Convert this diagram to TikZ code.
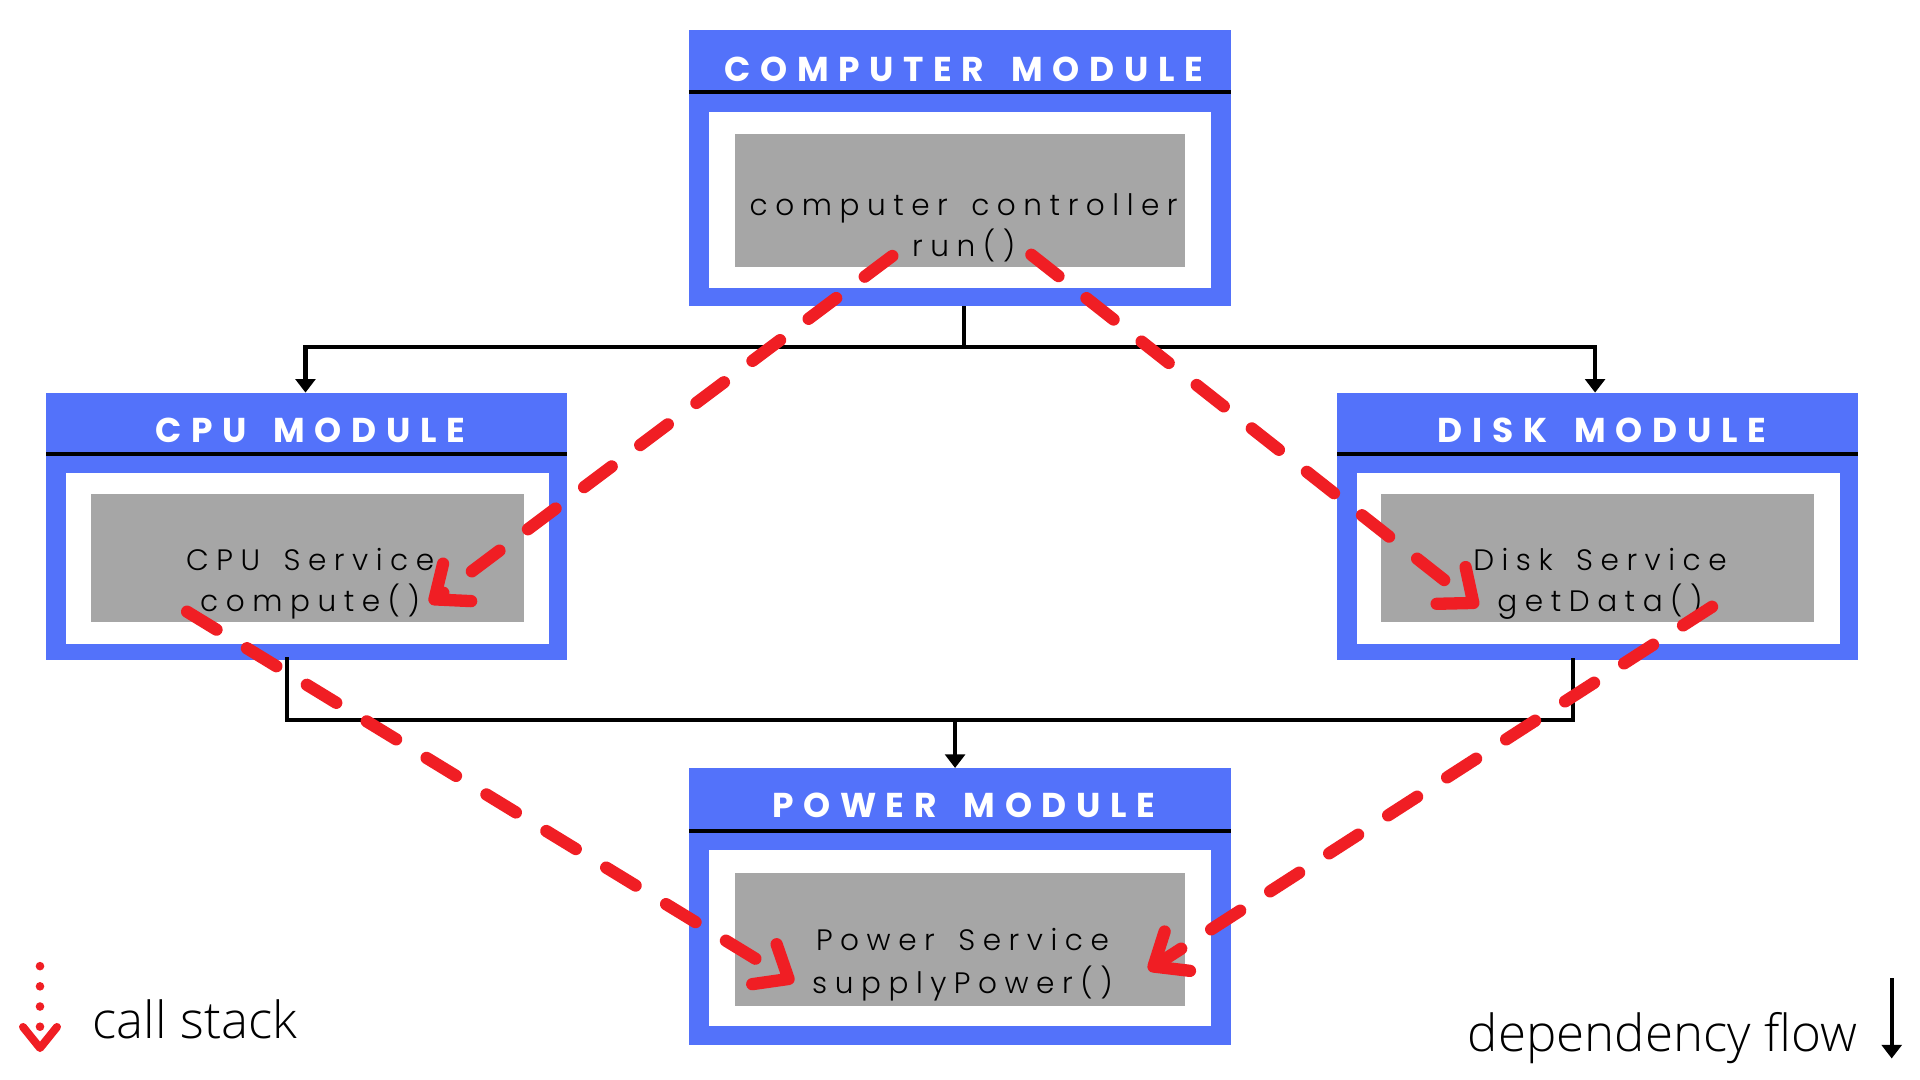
\documentclass[tikz,border=0pt]{standalone}
\usepackage{fontspec}
\setmainfont{Poppins}
\newfontfamily\titlefont{Poppins}[LetterSpace=28, WordSpace=1.6]
\IfFontExistsTF{Poppins Light}
  {\newfontfamily\bodyfont{Poppins Light}[LetterSpace=25.5, WordSpace=1.5]}
  {\newfontfamily\bodyfont{Poppins}[LetterSpace=26]}
\IfFontExistsTF{Open Sans Light}
  {\newfontfamily\legendfont{Open Sans Light}}
  {\newfontfamily\legendfont{Open Sans}}
\usetikzlibrary{arrows.meta}
\definecolor{modblue}{RGB}{83,114,250}
\definecolor{svcgray}{RGB}{166,166,166}
\definecolor{callred}{RGB}{240,30,36}
\tikzset{
  modouter/.style={fill=modblue, draw=none, inner sep=0pt, outer sep=0pt},
  whitebox/.style={fill=white, draw=none, inner sep=0pt, outer sep=0pt},
  graybox/.style={fill=svcgray, draw=none, inner sep=0pt, outer sep=0pt},
  titletxt/.style={text=white, font=\titlefont\bfseries\fontsize{28pt}{30pt}\selectfont, anchor=base, inner sep=0pt},
  bodytxt/.style={text=black, font=\bodyfont\fontsize{24pt}{28pt}\selectfont, anchor=base, inner sep=0pt},
  legendtxt/.style={text=black, font=\legendfont\fontsize{41.5pt}{45pt}\selectfont, inner sep=0pt},
  sepline/.style={line width=3.5pt, black},
  dep/.style={line width=3.5pt, black},
  deparrow/.style={dep, -{Triangle[length=11pt,width=16pt]}},
  callarrow/.style={callred, line width=10pt, line cap=round, dash pattern=on 28pt off 29pt, -{Straight Barb[length=23pt,width=38pt,round]}},
}
\begin{document}
\begin{tikzpicture}[x=1pt,y=-1pt]
\useasboundingbox (0,0) rectangle (1560,877.5);

% ---- Computer module
\node[modouter, minimum width=440.5pt, minimum height=225pt] (comp) at (780,136.5) {};
\draw[sepline] (559.7,75) -- (1000.2,75);
\node[titletxt] (compT) at (783,66.4) {COMPUTER MODULE};
\node[whitebox, minimum width=407.7pt, minimum height=143pt] (compW) at (780.15,162.5) {};
\node[graybox, minimum width=365pt, minimum height=108pt] (compG) at (780,163) {};
\node[bodytxt] (compL1) at (783,175) {computer controller};
\node[bodytxt] (compL2) at (783,208.5) {run()};

% ---- CPU module
\node[modouter, minimum width=423.6pt, minimum height=217pt] (cpu) at (249.2,427.5) {};
\draw[sepline] (37.4,369) -- (461,369);
\node[titletxt] (cpuT) at (252,359.7) {CPU MODULE};
\node[whitebox, minimum width=392.6pt, minimum height=139pt] (cpuW) at (249.7,453.5) {};
\node[graybox, minimum width=351.7pt, minimum height=104pt] (cpuG) at (249.55,453) {};
\node[bodytxt] (cpuL1) at (252,463.7) {CPU Service};
\node[bodytxt] (cpuL2) at (252,497) {compute()};

% ---- Disk module
\node[modouter, minimum width=423pt, minimum height=217pt] (disk) at (1298,427.5) {};
\draw[sepline] (1086.5,369) -- (1509.5,369);
\node[titletxt] (diskT) at (1301.5,359.7) {DISK MODULE};
\node[whitebox, minimum width=392.3pt, minimum height=139pt] (diskW) at (1298.5,453.5) {};
\node[graybox, minimum width=351.9pt, minimum height=104pt] (diskG) at (1298,453) {};
\node[bodytxt] (diskL1) at (1300,463.7) {Disk Service};
\node[bodytxt] (diskL2) at (1300,497) {getData()};

% ---- Power module
\node[modouter, minimum width=440.5pt, minimum height=225pt] (power) at (780,736.5) {};
\draw[sepline] (559.7,675) -- (1000.2,675);
\node[titletxt] (powerT) at (783,664) {POWER MODULE};
\node[whitebox, minimum width=407.7pt, minimum height=143pt] (powerW) at (780.15,762.5) {};
\node[graybox, minimum width=365pt, minimum height=108pt] (powerG) at (780,763) {};
\node[bodytxt] (powerL1) at (782,772.4) {Power Service};
\node[bodytxt] (powerL2) at (782,807) {supplyPower()};

% ---- dependency connectors
\coordinate (jtop) at (783,282);
\coordinate (jbot) at (776,585);
\draw[dep] ([xshift=3pt]comp.south) -- (jtop);
\draw[deparrow] (jtop) -| ([xshift=-1pt]cpu.north);
\draw[deparrow] (jtop) -| ([xshift=-2pt]disk.north);
\draw[dep] ([xshift=-16pt,yshift=2pt]cpu.south) |- (jbot) -| ([xshift=-20pt,yshift=1pt]disk.south);
\draw[deparrow] (jbot) -- (jbot |- power.north);

% ---- call-stack connectors
\coordinate (c1s) at (725,208);  \coordinate (c1e) at (349,490);
\coordinate (c2s) at (838,207);  \coordinate (c2e) at (1201,493);
\coordinate (c3s) at (152,497);  \coordinate (c3e) at (645,798);
\coordinate (c4s) at (1391,493); \coordinate (c4e) at (933,788);
\draw[callarrow] (c1s) -- (c1e);
\draw[callarrow] (c2s) -- (c2e);
\draw[callarrow] (c3s) -- (c3e);
\draw[callarrow] (c4s) -- (c4e);

% ---- legend
\draw[callred, line width=7pt, line cap=round, dash pattern=on 0pt off 16.4pt] (32.5,785) -- (32.5,835);
\draw[callred, line width=6.5pt, line cap=round, line join=round] (18.7,834.4) -- (32.5,851.5) -- (46.3,834.4);
\node[legendtxt, anchor=base west] (cs) at (75,843.5) {call stack};
\node[legendtxt, anchor=base east] (df) at (1509,854.5) {dependency flow};
\coordinate (dfa) at (1537,795);
\coordinate (dfb) at (1537,860);
\draw[deparrow] (dfa) -- (dfb);
\end{tikzpicture}
\end{document}
